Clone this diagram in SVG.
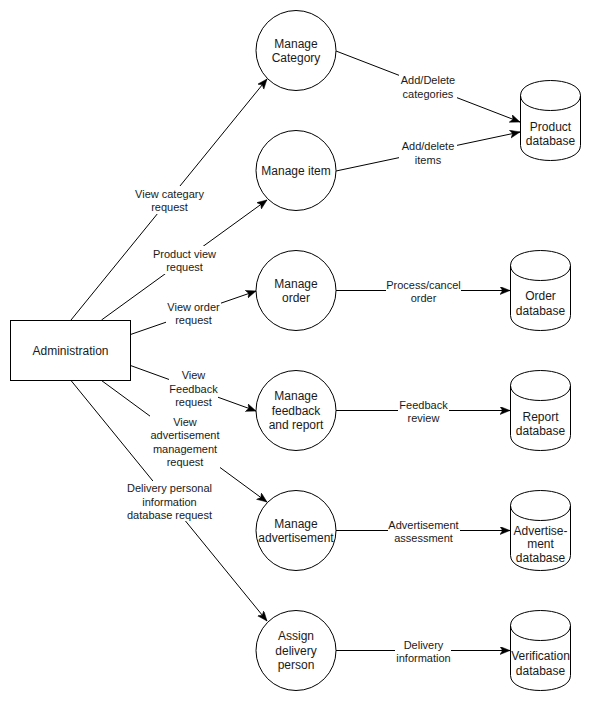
<svg xmlns="http://www.w3.org/2000/svg" xmlns:xlink="http://www.w3.org/1999/xlink" width="591" height="701" viewBox="0 0 591 701">
  <style>
    .shape { fill: #ffffff; stroke: #000000; stroke-width: 1; }
    .flow { fill: none; stroke: #000000; stroke-width: 1; marker-end: url(#arrow); }
    .lblbg { fill: #ffffff; stroke: none; }
    .node-text { font-family: "Liberation Sans", Arial, Helvetica, sans-serif; font-size: 12px; fill: #1a1a1a; text-anchor: middle; dominant-baseline: central; }
    .edge-text { font-family: "Liberation Sans", Arial, Helvetica, sans-serif; font-size: 11px; fill: #1a1a1a; text-anchor: middle; dominant-baseline: central; }
  </style>
  <defs>
    <marker id="arrow" markerUnits="userSpaceOnUse" markerWidth="12" markerHeight="10" refX="10" refY="4" orient="auto">
      <path d="M0,0 L10,4 L0,8 L2.5,4 Z" fill="#000000" stroke="#000000" stroke-width="0.5"/>
    </marker>
    <!-- cylinder 60x80, cap depth 15 -->
    <path id="cyl" d="M0,15 C0,-5 60,-5 60,15 L60,65 C60,85 0,85 0,65 Z M0,15 C0,35 60,35 60,15"/>
  </defs>
  <rect width="591" height="701" fill="#ffffff"/>

  <g id="connectors">
    <!-- Administration to processes -->
    <line class="flow" x1="71" y1="320" x2="267" y2="79"/>
    <line class="flow" x1="101.5" y1="320" x2="267" y2="200"/>
    <line class="flow" x1="130.5" y1="334.5" x2="256" y2="291"/>
    <line class="flow" x1="130.5" y1="365.5" x2="256" y2="411"/>
    <line class="flow" x1="101.5" y1="380.5" x2="267" y2="502"/>
    <line class="flow" x1="71" y1="380.5" x2="267" y2="621"/>
    <!-- processes to data stores -->
    <line class="flow" x1="336" y1="51" x2="520" y2="122"/>
    <line class="flow" x1="336" y1="171" x2="520" y2="132"/>
    <line class="flow" x1="336" y1="290.5" x2="510" y2="290.5"/>
    <line class="flow" x1="336" y1="410.5" x2="510" y2="410.5"/>
    <line class="flow" x1="336" y1="530.5" x2="510" y2="530.5"/>
    <line class="flow" x1="336" y1="650.5" x2="510" y2="650.5"/>

    <!-- label backgrounds -->
    <rect class="lblbg" x="134" y="186" width="71" height="28"/>
    <rect class="lblbg" x="152" y="246" width="65" height="28"/>
    <rect class="lblbg" x="166" y="299" width="55" height="28"/>
    <rect class="lblbg" x="169" y="368" width="49" height="40"/>
    <rect class="lblbg" x="150" y="415" width="70" height="54"/>
    <rect class="lblbg" x="127" y="481" width="86" height="40"/>
    <rect class="lblbg" x="399" y="73" width="58" height="27"/>
    <rect class="lblbg" x="399" y="139" width="58" height="27"/>
    <rect class="lblbg" x="386" y="278" width="75" height="27"/>
    <rect class="lblbg" x="398" y="397" width="51" height="28"/>
    <rect class="lblbg" x="388" y="517" width="72" height="28"/>
    <rect class="lblbg" x="395" y="637" width="56" height="28"/>

    <!-- labels -->
    <text class="edge-text" x="169.5"><tspan x="169.5" y="193.5">View categary</tspan><tspan x="169.5" y="207">request</tspan></text>
    <text class="edge-text" x="184.5"><tspan x="184.5" y="253.5">Product view</tspan><tspan x="184.5" y="267">request</tspan></text>
    <text class="edge-text" x="193.5"><tspan x="193.5" y="306.5">View order</tspan><tspan x="193.5" y="320">request</tspan></text>
    <text class="edge-text" x="193.5"><tspan x="193.5" y="375">View</tspan><tspan x="193.5" y="388.5">Feedback</tspan><tspan x="193.5" y="402">request</tspan></text>
    <text class="edge-text" x="185"><tspan x="185" y="421.5">View</tspan><tspan x="185" y="435">advertisement</tspan><tspan x="185" y="448.5">management</tspan><tspan x="185" y="462">request</tspan></text>
    <text class="edge-text" x="169.5"><tspan x="169.5" y="488">Delivery personal</tspan><tspan x="169.5" y="501.5">information</tspan><tspan x="169.5" y="515">database request</tspan></text>
    <text class="edge-text" x="428"><tspan x="428" y="80">Add/Delete</tspan><tspan x="428" y="93.5">categories</tspan></text>
    <text class="edge-text" x="428"><tspan x="428" y="146">Add/delete</tspan><tspan x="428" y="159.5">items</tspan></text>
    <text class="edge-text" x="423.5"><tspan x="423.5" y="284.5">Process/cancel</tspan><tspan x="423.5" y="298">order</tspan></text>
    <text class="edge-text" x="423.5"><tspan x="423.5" y="404.5">Feedback</tspan><tspan x="423.5" y="418">review</tspan></text>
    <text class="edge-text" x="423.5"><tspan x="423.5" y="524.5">Advertisement</tspan><tspan x="423.5" y="538">assessment</tspan></text>
    <text class="edge-text" x="423.5"><tspan x="423.5" y="644.5">Delivery</tspan><tspan x="423.5" y="658">information</tspan></text>
  </g>

  <g id="administration">
    <rect class="shape" x="10.5" y="320.5" width="120" height="60"/>
    <text class="node-text" x="70.5" y="350.5">Administration</text>
  </g>

  <g id="manage-category">
    <circle class="shape" cx="296" cy="50.5" r="40"/>
    <text class="node-text"><tspan x="296" y="43.5">Manage</tspan><tspan x="296" y="57.5">Category</tspan></text>
  </g>
  <g id="manage-item">
    <circle class="shape" cx="296" cy="170.5" r="40"/>
    <text class="node-text" x="296" y="170.5">Manage item</text>
  </g>
  <g id="manage-order">
    <circle class="shape" cx="296" cy="290.5" r="40"/>
    <text class="node-text"><tspan x="296" y="283.5">Manage</tspan><tspan x="296" y="297.5">order</tspan></text>
  </g>
  <g id="manage-feedback">
    <circle class="shape" cx="296" cy="410.5" r="40"/>
    <text class="node-text"><tspan x="296" y="396">Manage</tspan><tspan x="296" y="410.5">feedback</tspan><tspan x="296" y="425">and report</tspan></text>
  </g>
  <g id="manage-advertisement">
    <circle class="shape" cx="296" cy="530.5" r="40"/>
    <text class="node-text"><tspan x="296" y="523.5">Manage</tspan><tspan x="296" y="537.5">advertisement</tspan></text>
  </g>
  <g id="assign-delivery">
    <circle class="shape" cx="296" cy="650.5" r="40"/>
    <text class="node-text"><tspan x="296" y="636">Assign</tspan><tspan x="296" y="650.5">delivery</tspan><tspan x="296" y="665">person</tspan></text>
  </g>

  <g id="product-database">
    <use xlink:href="#cyl" class="shape" x="520.5" y="80.5"/>
    <text class="node-text"><tspan x="550.5" y="126.5">Product</tspan><tspan x="550.5" y="141">database</tspan></text>
  </g>
  <g id="order-database">
    <use xlink:href="#cyl" class="shape" x="510.5" y="250.5"/>
    <text class="node-text"><tspan x="540.5" y="296">Order</tspan><tspan x="540.5" y="311">database</tspan></text>
  </g>
  <g id="report-database">
    <use xlink:href="#cyl" class="shape" x="510.5" y="370.5"/>
    <text class="node-text"><tspan x="540.5" y="416.5">Report</tspan><tspan x="540.5" y="431">database</tspan></text>
  </g>
  <g id="advertisement-database">
    <use xlink:href="#cyl" class="shape" x="510.5" y="490.5"/>
    <text class="node-text"><tspan x="540.5" y="530.5">Advertise-</tspan><tspan x="540.5" y="544">ment</tspan><tspan x="540.5" y="558">database</tspan></text>
  </g>
  <g id="verification-database">
    <use xlink:href="#cyl" class="shape" x="510.5" y="610.5"/>
    <text class="node-text"><tspan x="540.5" y="656">Verification</tspan><tspan x="540.5" y="671">database</tspan></text>
  </g>
</svg>
